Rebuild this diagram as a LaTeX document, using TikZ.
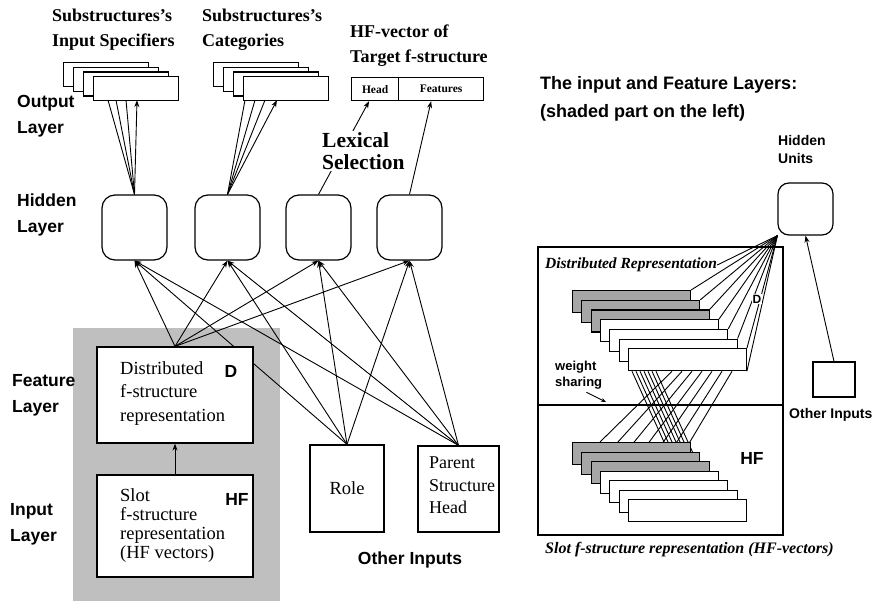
\documentclass[tikz,border=0pt]{standalone}
\usepackage{fontspec}
\setmainfont{Liberation Serif}
\setsansfont{Liberation Sans}
\usetikzlibrary{arrows.meta}
\pgfdeclarelayer{back}
\pgfdeclarelayer{mid}
\pgfsetlayers{back,mid,main}
\begin{document}
\begin{tikzpicture}[x=1pt,y=-1pt,
 conn/.style={line width=0.9pt},
 arr/.style={conn,-{Stealth[length=7pt,width=5pt]}},
 boxline/.style={draw,line width=1.2pt,fill=white,inner sep=0},
 hid/.style={boxline,rounded corners=13pt,minimum width=65pt,minimum height=65pt},
 sbox/.style={boxline,minimum width=85pt,minimum height=24pt,anchor=north west},
 rbox/.style={boxline,line width=1.1pt,minimum width=118pt,minimum height=22pt,anchor=north west},
 shbox/.style={rbox,fill=black!35},
 lbl/.style={font=\sffamily\bfseries\fontsize{17.5}{26}\selectfont,align=left,inner sep=0,anchor=west},
 bigl/.style={font=\sffamily\bfseries\fontsize{17.5}{20}\selectfont,inner sep=0},
 ttl/.style={font=\bfseries\fontsize{18}{25}\selectfont,align=left,inner sep=0,anchor=west},
 txt/.style={font=\fontsize{18.5}{23.5}\selectfont,align=left,inner sep=0,anchor=west},
 shd/.style={fill=black!25}
]
\useasboundingbox (0,0) rectangle (877,601);

% ---------- left: labels ----------
\node[lbl] at (17,116.5) {Output\\Layer};
\node[lbl] at (17,215) {Hidden\\Layer};
\node[lbl] at (12,395) {Feature\\Layer};
\node[lbl] at (10,524.5) {Input\\Layer};

\node[ttl] at (52,29.5) {Substructures's\\Input Specifiers};
\node[ttl] at (202,29.5) {Substructures's\\Categories};
\node[ttl] at (350,45.5) {HF-vector of\\Target f-structure};

% ---------- output layer ----------
\foreach \k in {0,...,3} \node[sbox] (is\k) at ({63+10*\k},{62+4.7*\k}) {};
\foreach \k in {0,...,3} \node[sbox] (ct\k) at ({213+10*\k},{62+4.7*\k}) {};
\node[boxline,minimum width=47pt,minimum height=23pt,anchor=north west,font=\bfseries\fontsize{11.5}{11.5}\selectfont] (head) at (351,77) {Head};
\node[boxline,minimum width=85pt,minimum height=23pt,anchor=north west,font=\bfseries\fontsize{11.5}{11.5}\selectfont] (feat) at (398,77) {Features};

\coordinate (isa) at (108,100.1);
\coordinate (isb) at (116,100.1);
\coordinate (isc) at (126,100.1);
\coordinate (isd) at (137,100.1);
\coordinate (cta) at (245,100.1);
\coordinate (ctb) at (255,100.1);
\coordinate (ctc) at (265,100.1);
\coordinate (ctd) at (277,100.1);

% ---------- hidden layer ----------
\foreach \i/\x in {1/134.5,2/227.5,3/318.5,4/409.5} \node[hid] (h\i) at (\x,227.5) {};

\draw[conn] (h1.north) -- (isa);
\draw[conn] (h1.north) -- (isb);
\draw[conn] (h1.north) -- (isc);
\draw[arr] (h1.north) -- (isd);
\draw[conn] (h2.north) -- (cta);
\draw[conn] (h2.north) -- (ctb);
\draw[conn] (h2.north) -- (ctc);
\draw[arr] (h2.north) -- (ctd);

\node[font=\bfseries\fontsize{21.5}{22}\selectfont,align=left,anchor=west,fill=white,inner sep=1pt] (lex) at (321,151) {Lexical\\Selection};
\begin{pgfonlayer}{mid}
\draw[arr] (h3.north) -- ([xshift=-6pt]head.south);
\draw[arr] (h4.north) -- ([xshift=-10pt]feat.south);
\end{pgfonlayer}

% ---------- feature / input layers ----------
\begin{pgfonlayer}{back}
\fill[shd] (73,328) rectangle (280,601);
\end{pgfonlayer}
\node[boxline,minimum width=156pt,minimum height=96pt] (dist) at (175,395) {};
\node[txt] at (120,393.5) {Distributed\\f-structure\\representation};
\node[bigl] at (231,371) {D};
\node[boxline,minimum width=156pt,minimum height=102pt] (inp) at (175,526) {};
\node[txt,font=\fontsize{18.5}{19}\selectfont] at (120,525.5) {Slot\\f-structure\\representation\\(HF vectors)};
\node[bigl] at (237,499) {HF};
\draw[arr] (inp.north) -- (dist.south);

\node[boxline,minimum width=74pt,minimum height=87pt,font=\fontsize{18.5}{18.5}\selectfont] (role) at (347,488.5) {Role};
\node[boxline,minimum width=81pt,minimum height=86pt] (par) at (458.5,489) {};
\node[txt,font=\fontsize{18}{22.5}\selectfont] at (429,485.5) {Parent\\Structure\\Head};
\node[bigl] at (410,560) {Other Inputs};

\begin{pgfonlayer}{mid}
\foreach \i in {1,...,4} {
  \draw[arr] (dist.north) -- (h\i.south);
  \draw[arr] (role.north) -- (h\i.south);
  \draw[arr] (par.north) -- (h\i.south);
}
\end{pgfonlayer}

% ---------- right diagram ----------
\node[lbl,font=\sffamily\bfseries\fontsize{18}{28}\selectfont] at (540,99) {The input and Feature Layers:\\(shaded part on the left)};
\node[font=\sffamily\bfseries\fontsize{14}{18}\selectfont,align=left,anchor=west,inner sep=0] at (778,149) {Hidden\\Units};
\node[hid,minimum width=55pt,minimum height=52pt,rounded corners=11pt] (hu) at (805.5,209) {};

\draw[line width=1.2pt] (538,247) rectangle (783,535);
\draw[line width=1.2pt] (538,405) -- (783,405);

\node[font=\bfseries\itshape\fontsize{15.5}{15.5}\selectfont,anchor=west,inner sep=0] (drl) at (545,265) {Distributed Representation};

\foreach \k/\s in {0/shbox,1/shbox,2/shbox,3/rbox,4/rbox,5/rbox,6/rbox}
  \node[\s] (d\k) at ({572+9.3*\k},{290+9.7*\k}) {};
\foreach \k/\s in {0/shbox,1/shbox,2/shbox,3/rbox,4/rbox,5/rbox,6/rbox}
  \node[\s] (hf\k) at ({572+9.3*\k},{442+9.5*\k}) {};

\begin{pgfonlayer}{mid}
\draw[conn] (drl.east) -- (hu.south west);
\foreach \k in {0,...,6} \draw[conn] (hu.south west) -- (d\k.north east);
\draw[conn] (hu.south west) -- (d6.south east);
\foreach \k in {0,...,6} {
  \draw[conn] ([xshift={4.2+4*\k}]d6.south west) -- ([xshift={92-\k}]hf\k.north west);
  \draw[conn] ([xshift={44.2+10*\k}]d6.south west) -- ([xshift=28]hf\k.north west);
}
\end{pgfonlayer}

\node[font=\sffamily\bfseries\fontsize{12}{12}\selectfont,fill=white,inner sep=0.5pt] at (757,299) {D};
\node[bigl] at (752,458) {HF};

\node[font=\sffamily\bfseries\fontsize{13}{16}\selectfont,align=left,anchor=west,inner sep=0] (ws) at (555,375) {weight\\sharing};
\coordinate (wst) at (606,402);
\draw[conn,-{Stealth[length=5pt,width=4pt]}] ([xshift=-16pt,yshift=-3pt]ws.south east) -- (wst);

\node[font=\bfseries\itshape\fontsize{16}{16}\selectfont,anchor=west,inner sep=0] at (545,550) {Slot f-structure representation (HF-vectors)};

\node[boxline,minimum width=42pt,minimum height=35pt] (oi) at (834,379.5) {};
\draw[arr] (oi.north) -- (hu.south);
\node[font=\sffamily\bfseries\fontsize{14}{14}\selectfont,anchor=west,inner sep=0] at (789,415) {Other Inputs};
\end{tikzpicture}
\end{document}
